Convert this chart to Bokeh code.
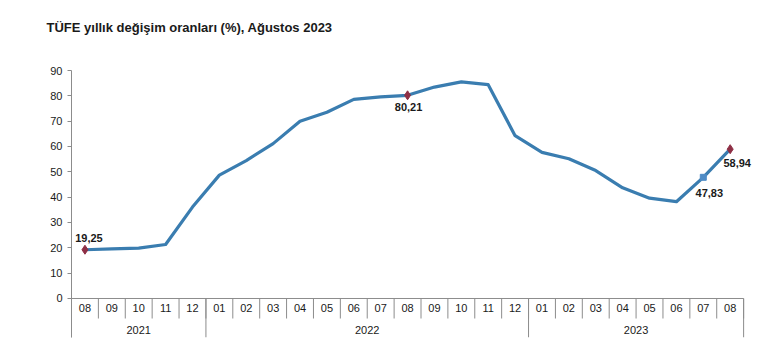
from bokeh.plotting import figure
from bokeh.models import Range1d, FixedTicker, ColumnDataSource, Title
from bokeh.core.properties import value
from bokeh.embed import file_html
from bokeh.resources import INLINE

title_text = "TÜFE yıllık değişim oranları (%), Ağustos 2023"
months = ["08", "09", "10", "11", "12",
          "01", "02", "03", "04", "05", "06", "07", "08", "09", "10", "11", "12",
          "01", "02", "03", "04", "05", "06", "07", "08"]
years = ["2021"] * 5 + ["2022"] * 12 + ["2023"] * 8
cpi = [19.25, 19.58, 19.89, 21.31, 36.08,
       48.69, 54.44, 61.14, 69.97, 73.50, 78.62, 79.60, 80.21, 83.45, 85.51, 84.39, 64.27,
       57.68, 55.18, 50.51, 43.68, 39.59, 38.21, 47.83, 58.94]
y_ticks = [0, 10, 20, 30, 40, 50, 60, 70, 80, 90]
labelled_idx = [0, 12, 23, 24]
labelled_kind = ["red", "red", "blue", "red"]

FONT = "Liberation Sans"
TXT = "#1a1a1a"
AX = "#8c8c8c"
LINE = "#3a7db0"

n = len(months)
xs = list(range(n))

W, H = 775, 350
p = figure(width=W, height=H, output_backend="svg", toolbar_location=None,
           x_range=Range1d(-0.5, 25.5), y_range=Range1d(-15.4, 90),
           min_border_left=71, min_border_right=W - 71 - 699,
           min_border_top=70, min_border_bottom=H - 70 - 267)
p.outline_line_color = None
p.xgrid.visible = False
p.ygrid.visible = False
p.xaxis.visible = False

# spacer above the frame, then the real title stacked above it
p.add_layout(Title(text=" ", text_font=FONT, text_font_size="13px", standoff=19), "above")
p.add_layout(Title(text=title_text, text_font=FONT, text_font_size="13px",
                   text_font_style="bold", text_color=TXT, align="left",
                   offset=-25, standoff=0), "above")

ya = p.yaxis[0]
ya.ticker = FixedTicker(ticks=y_ticks)
ya.axis_line_color = AX
ya.major_tick_line_color = AX
ya.major_tick_in = 0
ya.major_tick_out = 4
ya.minor_tick_line_color = None
ya.major_label_standoff = 5
ya.major_label_text_font = FONT
ya.major_label_text_font_size = "11px"
ya.major_label_text_color = TXT

# category axis: base line, separators, labels
p.segment(x0=[-0.5], y0=[0], x1=[n - 0.5], y1=[0], line_color=AX, line_width=1)
bounds = [i - 0.5 for i in range(n + 1)]
year_bounds = [-0.5] + [i - 0.5 for i in range(1, n) if years[i] != years[i - 1]] + [n - 0.5]
month_depth = -7.9
p.segment(x0=bounds, y0=[0] * len(bounds), x1=bounds, y1=[month_depth] * len(bounds),
          line_color=AX, line_width=1)
p.segment(x0=year_bounds, y0=[0] * len(year_bounds), x1=year_bounds, y1=[-15.4] * len(year_bounds),
          line_color=AX, line_width=1)
p.text(x=xs, y=[-3.9] * n, text=months, text_align="center", text_baseline="middle",
       text_font=value(FONT), text_font_size="11px", text_color=TXT)
uy = []
for y in years:
    if y not in uy:
        uy.append(y)
ycent = [sum(i for i in xs if years[i] == y) / years.count(y) for y in uy]
p.text(x=ycent, y=[-12.6] * len(uy), text=uy, text_align="center", text_baseline="middle",
       text_font=value(FONT), text_font_size="11px", text_color=TXT)

# series line
p.line(xs, cpi, line_color=LINE, line_width=3.2, line_join="round")

# markers
red_i = [i for i, k in zip(labelled_idx, labelled_kind) if k == "red"]
blue_i = [i for i, k in zip(labelled_idx, labelled_kind) if k == "blue"]
p.scatter([xs[i] for i in red_i], [cpi[i] for i in red_i], marker="diamond", size=9,
          fill_color="#8e2f45", line_color="#8e2f45")
p.scatter([xs[i] for i in blue_i], [cpi[i] for i in blue_i], marker="square", size=6,
          fill_color="#4f8cc6", line_color="#4f8cc6")

# value labels
lab_txt = [f"{cpi[i]:.2f}".replace(".", ",") for i in labelled_idx]
xoff = [4, 1, 6, 7]
yoff = [-12, 12, 16, 14]
src = ColumnDataSource(dict(x=[xs[i] for i in labelled_idx], y=[cpi[i] for i in labelled_idx],
                            t=lab_txt, xo=xoff, yo=yoff))
p.text(x="x", y="y", text="t", x_offset="xo", y_offset="yo", source=src,
       text_align="center", text_baseline="middle", text_font=value(FONT),
       text_font_size="11px", text_font_style="bold", text_color=TXT)

open("out.html", "w").write(file_html(p, INLINE))
